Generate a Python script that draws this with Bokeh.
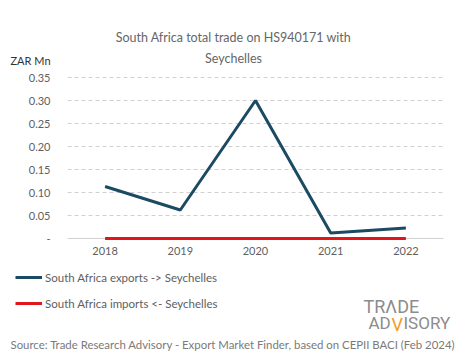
from bokeh.plotting import figure
from bokeh.layouts import column
from bokeh.models import (Range1d, FactorRange, FixedTicker, NumeralTickFormatter,
                          Label, Legend, LegendItem, Span)
from bokeh.embed import file_html
from bokeh.resources import INLINE

years = ["2018", "2019", "2020", "2021", "2022"]
exports = [0.113, 0.062, 0.300, 0.012, 0.023]
imports = [0.0, 0.0, 0.0, 0.0, 0.0]
yticks = [0, 0.05, 0.10, 0.15, 0.20, 0.25, 0.30, 0.35]
title_lines = ["South Africa total trade on HS940171 with", "Seychelles"]
y_title = "ZAR Mn"
series_names = ["South Africa exports -> Seychelles", "South Africa imports <- Seychelles"]
source_text = "Source: Trade Research Advisory - Export Market Finder, based on CEPII BACI (Feb 2024)"

FONT = "Lato"
GRAY = "#606060"
EXP_COLOR = "#1b4a63"
IMP_COLOR = "#e0161b"
W = 465


def blank(h):
    f = figure(width=W, height=h, x_range=Range1d(0, W), y_range=Range1d(0, h),
               output_backend="svg", toolbar_location=None, frame_align=False,
               min_border=0, min_border_left=0, min_border_right=0,
               min_border_top=0, min_border_bottom=0)
    f.axis.visible = False
    f.grid.visible = False
    f.outline_line_color = None
    f.background_fill_color = "white"
    f.border_fill_color = "white"
    return f


def lab(f, text, x, y, size, color, align="left", font=FONT):
    f.add_layout(Label(x=x, y=y, x_units="screen", y_units="screen", text=text,
                       text_font=font, text_font_size=size, text_color=color,
                       text_align=align, text_baseline="middle"))


# ---- top: title
top = blank(68)
lab(top, title_lines[0], 233, 31, "12.5px", "#666666", align="center")
lab(top, title_lines[1], 233, 10, "12.5px", "#666666", align="center")
lab(top, y_title, 10, 8, "11px", "#333333")

# ---- main chart
px = 0.35 / 161.0
p = figure(width=W, height=196, x_range=FactorRange(factors=years),
           y_range=Range1d(-2 * px, 0.35 + 5 * px), output_backend="svg",
           toolbar_location=None, frame_align=False,
           min_border_left=67, min_border_right=22,
           min_border_top=4, min_border_bottom=24)
p.outline_line_color = None
p.background_fill_color = "white"
p.border_fill_color = "white"

p.yaxis.ticker = FixedTicker(ticks=yticks)
p.yaxis.formatter = NumeralTickFormatter(format="0.00")
p.yaxis.major_label_overrides = {0: "-"}
for ax in (p.xaxis, p.yaxis):
    ax.axis_line_color = None
    ax.major_tick_line_color = None
    ax.minor_tick_line_color = None
    ax.major_label_text_font = FONT
    ax.major_label_text_font_size = "11px"
    ax.major_label_text_color = GRAY
p.yaxis.major_label_standoff = 11
p.xaxis.major_label_standoff = 0

p.xgrid.grid_line_color = None
p.ygrid.ticker = FixedTicker(ticks=yticks[1:])
p.ygrid.grid_line_color = "#d0d0d0"
p.ygrid.grid_line_dash = "4 3"
p.add_layout(Span(location=0, dimension="width", line_color="#d0d0d0",
                  line_width=1, level="underlay"))

p.line(years, exports, line_color=EXP_COLOR, line_width=3)
p.line(years, imports, line_color=IMP_COLOR, line_width=3)

# ---- bottom: legend, logo, source
bot = blank(95)
# legend proxies, kept outside the visible range
g1 = bot.line(x=[-20, -10], y=[-20, -20], line_color=EXP_COLOR, line_width=3)
g2 = bot.line(x=[-20, -10], y=[-20, -20], line_color=IMP_COLOR, line_width=3)
legend = Legend(items=[LegendItem(label=series_names[0], renderers=[g1]),
                       LegendItem(label=series_names[1], renderers=[g2])],
                location=(15, 46), orientation="vertical")
legend.padding = 0
legend.margin = 0
legend.spacing = 6
legend.glyph_width = 27
legend.glyph_height = 20
legend.label_height = 20
legend.label_standoff = 3
legend.border_line_color = None
legend.background_fill_alpha = 0
legend.label_text_font = FONT
legend.label_text_font_size = "11.5px"
legend.label_text_color = GRAY
bot.add_layout(legend)

lab(bot, source_text, 10, 15, "11.4px", "#7a7a7a")
LOGO = "Roboto"
lab(bot, "TRΛDE", 363, 53, "18px", "#8c8c8c", font=LOGO)
lab(bot, "AD", 368, 37, "17px", "#8c8c8c", font=LOGO)
lab(bot, "V", 391, 35, "18px", "#f0a020", font=LOGO)
lab(bot, "ISORY", 403, 37, "17px", "#8c8c8c", font=LOGO)

layout = column(top, p, bot, spacing=0)
open("out.html", "w").write(file_html(layout, INLINE))
